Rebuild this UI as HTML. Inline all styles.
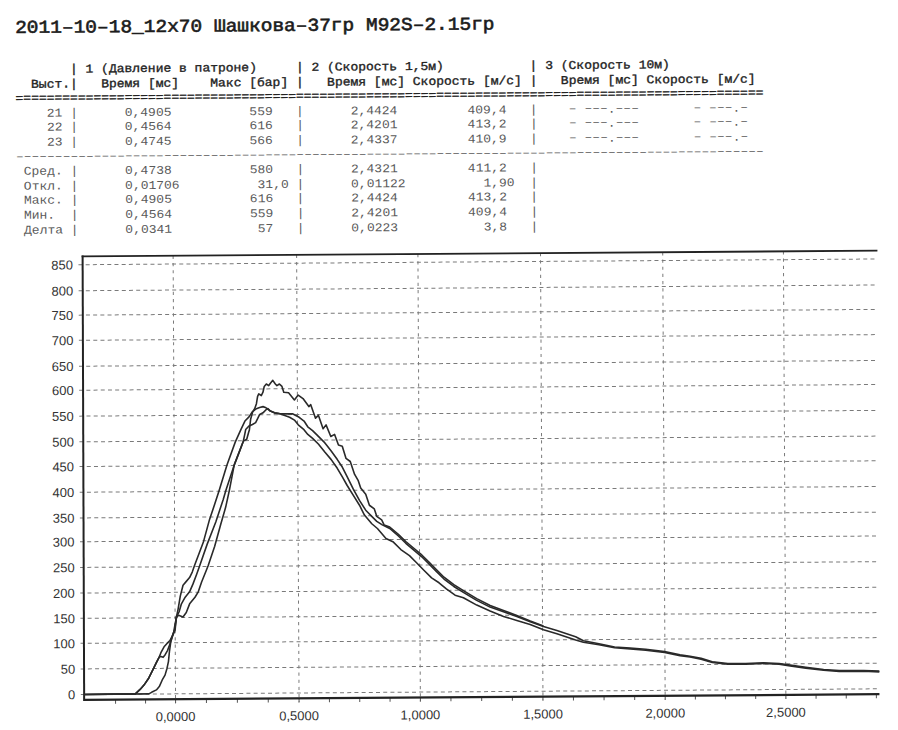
<!DOCTYPE html>
<html><head><meta charset="utf-8">
<style>
html,body{margin:0;padding:0;background:#fff;}
body{width:898px;height:730px;overflow:hidden;position:relative;}
#pg{position:absolute;left:0;top:0;width:898px;height:730px;transform:matrix(1,-0.0072,0.0055,1,0,0);transform-origin:0 0;}
.t{position:absolute;left:0;top:0;white-space:pre;font-family:"Liberation Mono",monospace;line-height:0;}
.ttl{font-weight:normal;font-size:18px;color:#1c1c1c;-webkit-text-stroke:0.6px #1c1c1c;transform:scaleX(1.0824);transform-origin:0 0;}
.r{font-size:12px;color:#5a5a5a;transform:scaleX(1.0819);transform-origin:0 0;}
.h{font-weight:normal;font-size:12px;color:#222;-webkit-text-stroke:0.35px #222;transform:scaleX(1.0819);transform-origin:0 0;}
svg{position:absolute;left:0;top:0;}
.gh{stroke:#7a7a7a;stroke-width:1;stroke-dasharray:4 3.2;}
.gv{stroke:#7a7a7a;stroke-width:1;stroke-dasharray:3.2 4;}
.tk{stroke:#555;stroke-width:1;}
.ax{stroke:#222;}
.cv{fill:none;stroke:#2a2a2a;stroke-width:1.6;stroke-linejoin:round;}
.yl{font-family:"Liberation Sans",sans-serif;font-size:13px;fill:#333;text-anchor:end;}
.xl{font-family:"Liberation Sans",sans-serif;font-size:13px;fill:#333;text-anchor:middle;}
</style></head><body><div id="pg">

<div class="t ttl" style="left:15.35px;top:28.11px">2011–10–18_12x70 Шашкова–37гр M92S–2.15гр</div>
<div class="t h" style="left:15.45px;top:69.91px">       | 1 (Давление в патроне)     | 2 (Скорость 1,5м)           | 3 (Скорость 10м)</div>
<div class="t h" style="left:15.45px;top:84.51px">  Выст.|   Время [мс]    Макс [бар] |   Время [мс] Скорость [м/с] |   Время [мс] Скорость [м/с]</div>
<div class="t h" style="left:15.45px;top:98.81px">================================================================================================</div>
<div class="t r" style="left:15.45px;top:113.71px">    21 |      0,4905          559   |      2,4424         409,4   |    <span style="position:relative;top:-1.2px">–</span> <span style="position:relative;top:-1.2px">–––</span>.<span style="position:relative;top:-1.2px">–––</span>       <span style="position:relative;top:-1.2px">–</span> <span style="position:relative;top:-1.2px">–––</span>.<span style="position:relative;top:-1.2px">–</span></div>
<div class="t r" style="left:15.45px;top:128.31px">    22 |      0,4564          616   |      2,4201         413,2   |    <span style="position:relative;top:-1.2px">–</span> <span style="position:relative;top:-1.2px">–––</span>.<span style="position:relative;top:-1.2px">–––</span>       <span style="position:relative;top:-1.2px">–</span> <span style="position:relative;top:-1.2px">–––</span>.<span style="position:relative;top:-1.2px">–</span></div>
<div class="t r" style="left:15.45px;top:142.91px">    23 |      0,4745          566   |      2,4337         410,9   |    <span style="position:relative;top:-1.2px">–</span> <span style="position:relative;top:-1.2px">–––</span>.<span style="position:relative;top:-1.2px">–––</span>       <span style="position:relative;top:-1.2px">–</span> <span style="position:relative;top:-1.2px">–––</span>.<span style="position:relative;top:-1.2px">–</span></div>
<div class="t r" style="left:15.45px;top:157.01px">––––––––––––––––––––––––––––––––––––––––––––––––––––––––––––––––––––––––––––––––––––––––––––––––</div>
<div class="t r" style="left:15.45px;top:172.11px"> Сред. |      0,4738          580   |      2,4321         411,2   |</div>
<div class="t r" style="left:15.45px;top:186.71px"> Откл. |      0,01706          31,0 |      0,01122          1,90  |</div>
<div class="t r" style="left:15.45px;top:201.31px"> Макс. |      0,4905          616   |      2,4424         413,2   |</div>
<div class="t r" style="left:15.45px;top:215.91px"> Мин.  |      0,4564          559   |      2,4201         409,4   |</div>
<div class="t r" style="left:15.45px;top:230.51px"> Делта |      0,0341           57   |      0,0223           3,8   |</div>
<svg width="898" height="730" viewBox="0 0 898 730"><line x1="77.0" y1="695.1" x2="876.0" y2="695.1" class="gh"/><line x1="77.0" y1="669.5" x2="876.0" y2="669.5" class="gh"/><line x1="77.0" y1="643.9" x2="876.0" y2="643.9" class="gh"/><line x1="77.0" y1="618.9" x2="876.0" y2="618.9" class="gh"/><line x1="77.0" y1="593.6" x2="876.0" y2="593.6" class="gh"/><line x1="77.0" y1="568.0" x2="876.0" y2="568.0" class="gh"/><line x1="77.0" y1="542.3" x2="876.0" y2="542.3" class="gh"/><line x1="77.0" y1="518.5" x2="876.0" y2="518.5" class="gh"/><line x1="77.0" y1="492.8" x2="876.0" y2="492.8" class="gh"/><line x1="77.0" y1="467.1" x2="876.0" y2="467.1" class="gh"/><line x1="77.0" y1="442.4" x2="876.0" y2="442.4" class="gh"/><line x1="77.0" y1="416.7" x2="876.0" y2="416.7" class="gh"/><line x1="77.0" y1="390.8" x2="876.0" y2="390.8" class="gh"/><line x1="77.0" y1="366.8" x2="876.0" y2="366.8" class="gh"/><line x1="77.0" y1="340.9" x2="876.0" y2="340.9" class="gh"/><line x1="77.0" y1="315.7" x2="876.0" y2="315.7" class="gh"/><line x1="77.0" y1="291.3" x2="876.0" y2="291.3" class="gh"/><line x1="77.0" y1="265.3" x2="876.0" y2="265.3" class="gh"/><line x1="171.7" y1="257.0" x2="171.7" y2="704.5" class="gv"/><line x1="295.2" y1="257.0" x2="295.2" y2="704.5" class="gv"/><line x1="416.5" y1="257.0" x2="416.5" y2="704.5" class="gv"/><line x1="539.1" y1="257.0" x2="539.1" y2="704.5" class="gv"/><line x1="661.3" y1="257.0" x2="661.3" y2="704.5" class="gv"/><line x1="782.0" y1="257.0" x2="782.0" y2="704.5" class="gv"/><line x1="111.7" y1="700.5" x2="111.7" y2="704.5" class="tk"/><line x1="141.7" y1="700.5" x2="141.7" y2="704.5" class="tk"/><line x1="171.7" y1="700.5" x2="171.7" y2="704.5" class="tk"/><line x1="202.6" y1="700.5" x2="202.6" y2="704.5" class="tk"/><line x1="233.5" y1="700.5" x2="233.5" y2="704.5" class="tk"/><line x1="264.4" y1="700.5" x2="264.4" y2="704.5" class="tk"/><line x1="295.2" y1="700.5" x2="295.2" y2="704.5" class="tk"/><line x1="325.6" y1="700.5" x2="325.6" y2="704.5" class="tk"/><line x1="355.9" y1="700.5" x2="355.9" y2="704.5" class="tk"/><line x1="386.2" y1="700.5" x2="386.2" y2="704.5" class="tk"/><line x1="416.5" y1="700.5" x2="416.5" y2="704.5" class="tk"/><line x1="447.1" y1="700.5" x2="447.1" y2="704.5" class="tk"/><line x1="477.8" y1="700.5" x2="477.8" y2="704.5" class="tk"/><line x1="508.5" y1="700.5" x2="508.5" y2="704.5" class="tk"/><line x1="539.1" y1="700.5" x2="539.1" y2="704.5" class="tk"/><line x1="569.6" y1="700.5" x2="569.6" y2="704.5" class="tk"/><line x1="600.2" y1="700.5" x2="600.2" y2="704.5" class="tk"/><line x1="630.8" y1="700.5" x2="630.8" y2="704.5" class="tk"/><line x1="661.3" y1="700.5" x2="661.3" y2="704.5" class="tk"/><line x1="691.5" y1="700.5" x2="691.5" y2="704.5" class="tk"/><line x1="721.6" y1="700.5" x2="721.6" y2="704.5" class="tk"/><line x1="751.8" y1="700.5" x2="751.8" y2="704.5" class="tk"/><line x1="782.0" y1="700.5" x2="782.0" y2="704.5" class="tk"/><line x1="812.2" y1="700.5" x2="812.2" y2="704.5" class="tk"/><line x1="842.4" y1="700.5" x2="842.4" y2="704.5" class="tk"/><line x1="872.5" y1="700.5" x2="872.5" y2="704.5" class="tk"/><line x1="80.2" y1="257.0" x2="876.0" y2="257.0" class="ax" stroke-width="1.8"/><line x1="81.2" y1="256.2" x2="80.3" y2="701.5" class="ax" stroke-width="2"/><line x1="80.0" y1="700.5" x2="875.6" y2="700.5" class="ax" stroke-width="2.2"/><path d="M80.2 695.1 L131.5 694.8 L136.3 690.4 L140.2 686.1 L145.1 679.0 L148.9 671.4 L152.7 663.7 L155.7 657.9 L157.6 653.2 L160.5 648.0 L163.5 644.6 L166.4 641.7 L168.8 637.0 L171.2 631.3 L173.0 618.3 L174.7 610.6 L177.0 597.4 L179.8 586.5 L183.1 582.7 L186.4 578.9 L189.1 573.4 L191.4 566.9 L200.5 543.1 L206.7 520.9 L211.8 506.1 L216.2 492.7 L224.4 466.7 L232.8 443.8 L238.5 431.3 L242.6 422.8 L246.7 418.7 L250.0 413.7 L254.1 410.5 L257.4 409.3 L260.8 408.5 L263.1 409.3 L265.6 411.0 L268.1 413.0 L272.2 414.8 L277.1 415.6 L283.5 415.9 L290.2 415.9 L296.9 419.4 L301.7 423.2 L305.4 429.0 L310.2 432.9 L316.0 438.7 L321.7 444.4 L328.7 453.4 L334.8 462.0 L339.7 469.5 L344.6 479.4 L350.6 491.7 L356.7 502.9 L362.9 512.8 L368.9 519.0 L373.9 524.0 L379.4 527.6 L386.8 531.3 L395.4 538.8 L402.8 546.2 L410.2 552.5 L418.7 559.8 L426.1 567.3 L433.4 574.7 L440.8 582.2 L450.6 589.7 L460.1 595.7 L473.4 603.8 L486.7 610.6 L500.1 615.4 L513.4 620.1 L526.8 625.6 L540.0 630.3 L553.4 634.5 L572.1 640.9 L579.9 644.9 L595.4 648.1 L611.0 651.4 L626.6 652.5 L642.1 653.9 L660.9 656.4 L676.4 659.7 L686.4 661.2 L697.5 663.4 L708.6 666.8 L724.2 668.7 L742.0 668.9 L759.8 668.3 L775.4 669.1 L786.5 670.8 L802.1 673.1 L819.9 675.4 L835.5 676.6 L860.0 676.8 L875.6 677.4" class="cv"/><path d="M80.2 695.1 L131.5 694.8 L136.3 690.4 L140.2 686.1 L145.1 679.0 L148.9 671.4 L152.7 663.7 L155.7 657.9 L157.4 657.7 L159.5 658.5 L161.4 656.1 L163.9 651.8 L166.3 645.6 L168.3 638.9 L170.2 633.2 L173.0 618.3 L175.8 612.8 L178.1 605.1 L181.9 598.5 L186.3 593.2 L189.7 585.5 L193.5 575.6 L196.3 568.0 L204.2 545.6 L212.9 523.5 L220.4 501.3 L223.3 491.6 L231.6 466.8 L236.5 454.3 L240.9 442.9 L242.4 435.8 L243.3 431.3 L246.6 427.8 L250.1 426.3 L253.3 424.4 L255.3 420.4 L257.4 416.3 L260.7 414.7 L264.0 411.4 L265.6 410.6 L268.1 413.0 L272.2 414.8 L277.7 415.8 L287.3 419.3 L292.1 422.2 L295.9 427.0 L301.6 431.8 L305.4 436.6 L310.2 440.6 L315.9 446.3 L322.5 454.6 L328.7 462.0 L334.7 470.7 L339.7 479.4 L344.5 488.0 L350.6 497.9 L356.7 507.8 L361.6 517.7 L368.9 526.4 L374.5 531.2 L383.0 541.2 L390.4 544.9 L397.8 552.4 L406.4 558.5 L413.7 566.0 L421.0 573.5 L428.4 580.9 L435.8 585.9 L443.1 592.1 L451.8 598.4 L460.1 601.0 L473.4 608.5 L486.7 614.6 L500.1 620.0 L513.4 624.1 L526.7 628.2 L540.0 633.7 L553.4 637.8 L572.1 644.1 L579.8 646.5 L595.4 649.1 L611.0 652.2 L626.6 653.4 L642.1 654.8 L660.9 657.2 L676.4 660.5 L686.4 662.0 L697.4 664.2 L708.6 667.5 L724.2 669.4 L742.0 669.5 L759.8 669.0 L775.4 669.8 L786.5 671.6 L802.1 673.9 L819.9 676.2 L835.5 677.4 L860.0 677.5 L875.6 678.2" class="cv"/><path d="M80.2 695.1 L145.0 694.9 L147.8 693.4 L152.6 691.0 L155.5 687.7 L158.5 681.1 L161.3 676.3 L163.3 669.6 L164.8 662.8 L165.8 653.2 L167.3 642.7 L169.2 637.0 L171.6 631.3 L173.0 618.3 L175.2 616.6 L179.6 618.3 L182.9 613.9 L186.3 605.2 L191.7 598.6 L195.0 593.2 L198.4 583.4 L202.9 572.5 L205.1 567.0 L211.6 548.1 L217.8 526.0 L222.9 508.7 L226.7 491.7 L231.6 466.8 L236.5 454.3 L240.9 442.9 L244.3 441.0 L246.2 434.3 L247.0 431.8 L248.3 421.1 L250.4 413.7 L252.4 410.5 L254.2 405.5 L255.4 398.2 L256.6 395.7 L259.1 397.4 L260.8 394.1 L262.1 388.3 L264.2 385.9 L266.6 387.5 L268.3 385.1 L270.7 382.3 L273.2 386.0 L274.8 387.6 L277.3 386.0 L279.8 388.4 L281.6 394.3 L286.4 394.8 L292.2 402.0 L296.0 397.2 L300.8 400.7 L306.6 408.8 L308.5 406.9 L313.2 420.4 L316.1 417.6 L320.7 431.0 L323.7 427.2 L328.4 438.8 L332.2 436.8 L336.0 447.4 L339.8 448.6 L343.5 460.9 L347.7 464.0 L352.0 477.0 L355.6 483.2 L358.0 490.6 L363.0 496.8 L366.6 507.9 L371.5 511.6 L373.9 519.0 L378.8 522.7 L381.3 527.8 L386.8 529.8 L395.4 537.1 L402.8 544.4 L410.2 550.7 L418.7 558.0 L426.1 565.5 L433.4 572.9 L440.8 580.4 L450.6 587.9 L460.1 593.9 L473.4 602.0 L486.8 609.0 L500.1 614.1 L513.4 619.1 L526.8 624.8 L540.0 629.9" class="cv"/><text x="71.5" y="699.8" class="yl">0</text><text x="71.5" y="674.2" class="yl">50</text><text x="71.5" y="648.6" class="yl">100</text><text x="71.5" y="623.6" class="yl">150</text><text x="71.5" y="598.3" class="yl">200</text><text x="71.5" y="572.7" class="yl">250</text><text x="71.5" y="547.0" class="yl">300</text><text x="71.5" y="523.2" class="yl">350</text><text x="71.5" y="497.5" class="yl">400</text><text x="71.5" y="471.8" class="yl">450</text><text x="71.5" y="447.1" class="yl">500</text><text x="71.5" y="421.4" class="yl">550</text><text x="71.5" y="395.5" class="yl">600</text><text x="71.5" y="371.5" class="yl">650</text><text x="71.5" y="345.6" class="yl">700</text><text x="71.5" y="320.4" class="yl">750</text><text x="71.5" y="296.0" class="yl">800</text><text x="71.5" y="270.0" class="yl">850</text><text x="171.7" y="722.4" class="xl">0,0000</text><text x="295.2" y="722.4" class="xl">0,5000</text><text x="416.5" y="722.4" class="xl">1,0000</text><text x="539.1" y="722.4" class="xl">1,5000</text><text x="661.3" y="722.4" class="xl">2,0000</text><text x="782.0" y="722.4" class="xl">2,5000</text></svg>
</div></body></html>
